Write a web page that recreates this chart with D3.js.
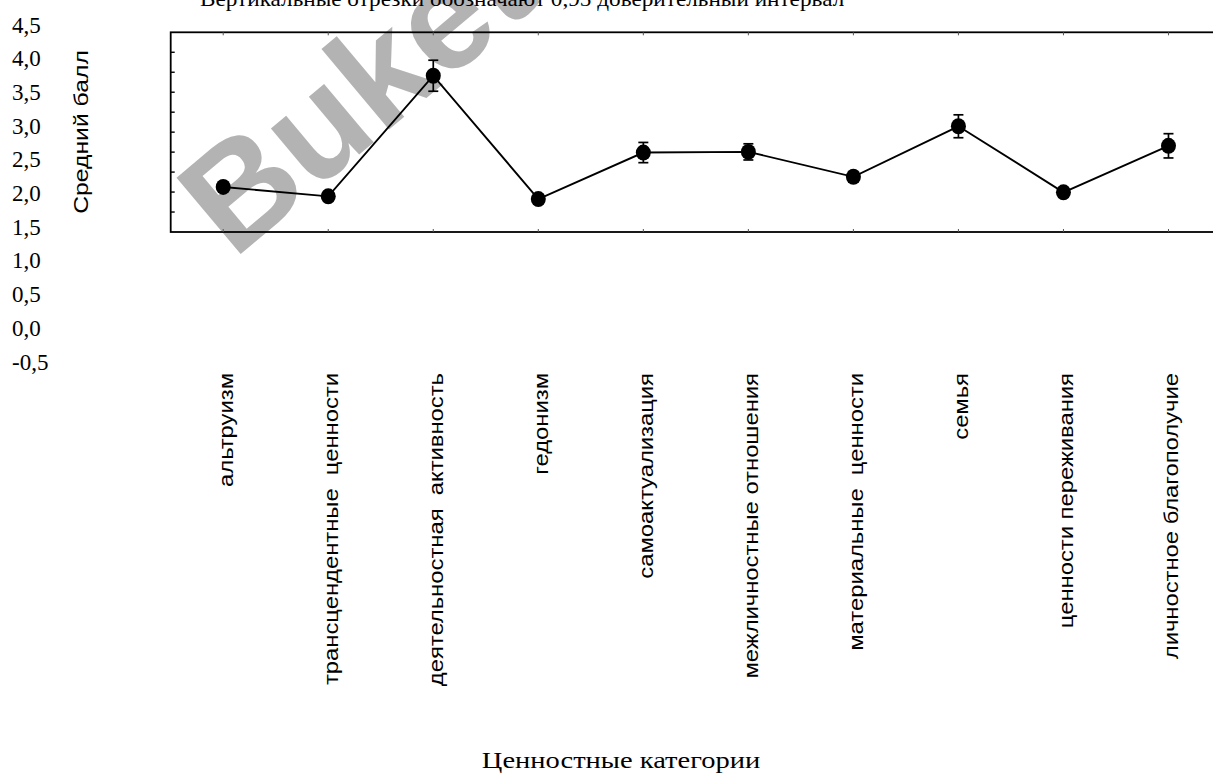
<!DOCTYPE html>
<html>
<head>
<meta charset="utf-8">
<script src="https://cdn.jsdelivr.net/npm/d3@7"></script>
<style>
  html, body { margin: 0; padding: 0; background: #fff; }
  svg { display: block; }
</style>
</head>
<body>
<svg id="chart" width="1213" height="782"></svg>
<script>
// ---- data ----
const categories = [
  "альтруизм",
  "трансцендентные  ценности",
  "деятельностная  активность",
  "гедонизм",
  "самоактуализация",
  "межличностные отношения",
  "материальные  ценности",
  "семья",
  "ценности переживания",
  "личностное благополучие"
];
const means = [2.09, 1.95, 3.74, 1.91, 2.60, 2.61, 2.24, 2.99, 2.01, 2.70];
const ciHalf = [0.07, 0.07, 0.23, 0.07, 0.15, 0.12, 0.08, 0.17, 0.07, 0.18];
const yTicks = [4.5, 4.0, 3.5, 3.0, 2.5, 2.0, 1.5, 1.0, 0.5, 0.0, -0.5];
const titleText = "Вертикальные отрезки обозначают 0,95 доверительный интервал";
const yTitle = "Средний балл";
const xTitle = "Ценностные категории";
const watermark = "Buket";

// ---- layout ----
const frame = { left: 170.7, right: 1221, top: 32.3, bottom: 232 };
const svg = d3.select("#chart");

const x = d3.scalePoint().domain(categories).range([frame.left, frame.right]).padding(0.5);
const y = d3.scaleLinear().domain([-0.5, 4.5]).range([361.5, 24.5]);

// watermark (behind)
svg.append("text")
  .attr("transform", "translate(201,222) rotate(-40)")
  .attr("text-anchor", "start")
  .attr("dominant-baseline", "central")
  .attr("font-family", "Liberation Sans, Arial, sans-serif")
  .attr("font-weight", "bold")
  .attr("font-size", 145)
  .attr("fill", "#a6a6a6")
  .attr("fill-opacity", 0.85)
  .text(watermark);

// title (cut off at top)
svg.append("text")
  .attr("transform", "translate(200,6) scale(1.055,1)")
  .attr("font-family", "Liberation Serif, Times New Roman, serif")
  .attr("font-size", 22)
  .attr("fill", "#000")
  .text(titleText);

// y tick labels (left, separate column)
const fmt = d => d3.format(".1f")(d).replace(".", ",").replace("−", "-");
svg.append("g").selectAll("text").data(yTicks).join("text")
  .attr("x", 12)
  .attr("y", d => y(d))
  .attr("dy", "0.35em")
  .attr("font-family", "Liberation Serif, Times New Roman, serif")
  .attr("font-size", 23)
  .attr("fill", "#000")
  .text(fmt);

// y title
svg.append("text")
  .attr("transform", "translate(81,132) rotate(-90) scale(1.27,1)")
  .attr("text-anchor", "middle")
  .attr("dy", "0.35em")
  .attr("font-family", "Liberation Sans, Arial, sans-serif")
  .attr("font-size", 19.5)
  .attr("fill", "#000")
  .text(yTitle);

// frame
svg.append("rect")
  .attr("x", frame.left).attr("y", frame.top)
  .attr("width", frame.right - frame.left).attr("height", frame.bottom - frame.top)
  .attr("fill", "none").attr("stroke", "#000").attr("stroke-width", 1.8);

// inner left ticks
const innerTicks = d3.range(1, 10).map(i => frame.top + i * (frame.bottom - frame.top) / 10);
svg.append("g").selectAll("line").data(innerTicks).join("line")
  .attr("x1", frame.left).attr("x2", frame.left + 4)
  .attr("y1", d => d).attr("y2", d => d)
  .attr("stroke", "#000").attr("stroke-width", 1.4);

// top/bottom small ticks at categories
const tb = svg.append("g");
tb.selectAll("line.t").data(categories).join("line").attr("class", "t")
  .attr("x1", d => x(d)).attr("x2", d => x(d))
  .attr("y1", frame.top).attr("y2", frame.top + 3)
  .attr("stroke", "#555").attr("stroke-width", 1);
tb.selectAll("line.b").data(categories).join("line").attr("class", "b")
  .attr("x1", d => x(d)).attr("x2", d => x(d))
  .attr("y1", frame.bottom - 3).attr("y2", frame.bottom)
  .attr("stroke", "#555").attr("stroke-width", 1);

// data
const pts = categories.map((c, i) => ({ c, m: means[i], e: ciHalf[i] }));

// line
svg.append("path")
  .datum(pts)
  .attr("fill", "none").attr("stroke", "#000").attr("stroke-width", 1.9)
  .attr("d", d3.line().x(d => x(d.c)).y(d => y(d.m)));

// error bars
const eb = svg.append("g").attr("stroke", "#000").attr("stroke-width", 1.7);
eb.selectAll("line.v").data(pts).join("line").attr("class", "v")
  .attr("x1", d => x(d.c)).attr("x2", d => x(d.c))
  .attr("y1", d => y(d.m - d.e)).attr("y2", d => y(d.m + d.e));
eb.selectAll("line.hi").data(pts).join("line").attr("class", "hi")
  .attr("x1", d => x(d.c) - 5).attr("x2", d => x(d.c) + 5)
  .attr("y1", d => y(d.m + d.e)).attr("y2", d => y(d.m + d.e));
eb.selectAll("line.lo").data(pts).join("line").attr("class", "lo")
  .attr("x1", d => x(d.c) - 5).attr("x2", d => x(d.c) + 5)
  .attr("y1", d => y(d.m - d.e)).attr("y2", d => y(d.m - d.e));

// markers
svg.append("g").selectAll("ellipse").data(pts).join("ellipse")
  .attr("cx", d => x(d.c)).attr("cy", d => y(d.m))
  .attr("rx", 7.5).attr("ry", 8)
  .attr("fill", "#000");

// category labels (rotated)
svg.append("g").selectAll("text").data(categories).join("text")
  .attr("transform", d => `translate(${x(d) + 3},373) rotate(-90) scale(1.19,1)`)
  .attr("text-anchor", "end")
  .attr("dy", "0.35em")
  .attr("font-family", "Liberation Sans, Arial, sans-serif")
  .attr("font-size", 20)
  .attr("fill", "#000")
  .style("white-space", "pre")
  .text(d => d);

// x title
svg.append("text")
  .attr("transform", "translate(621,768) scale(1.24,1)")
  .attr("text-anchor", "middle")
  .attr("font-family", "Liberation Serif, Times New Roman, serif")
  .attr("font-size", 23)
  .attr("fill", "#000")
  .text(xTitle);
</script>
</body>
</html>
